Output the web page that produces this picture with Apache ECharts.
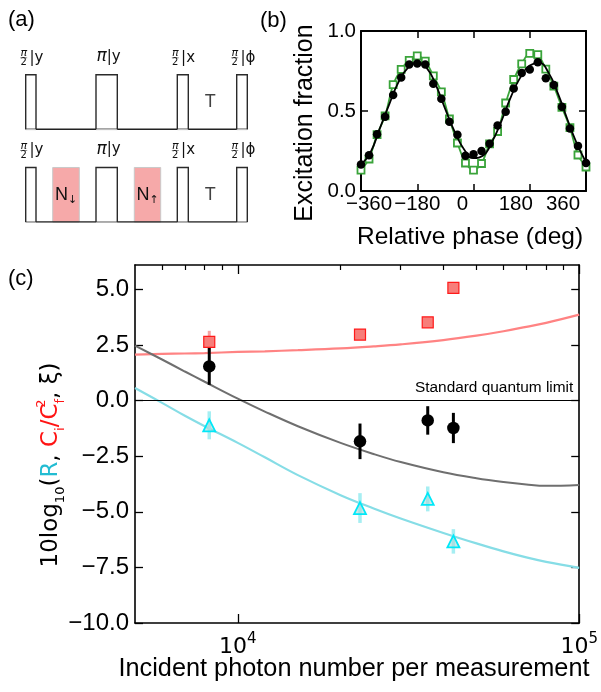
<!DOCTYPE html>
<html><head><meta charset="utf-8">
<script src="https://cdn.jsdelivr.net/npm/echarts@6/dist/echarts.min.js"></script>
<style>html,body{margin:0;padding:0;background:#fff}#c{width:601px;height:692px}</style>
</head><body><div id="c"></div><script>
// ---------------- panel (a): pulse sequence (time, arbitrary units)
const pulseTimes = [[0, 10.3], [70.3, 91.6], [151.6, 162.6], [211, 221.6]];
const pulseLabels = ['π/2|y', 'π|y', 'π/2|x', 'π/2|ϕ'];
const probeTimes = [[27, 53.6], [108.6, 135]];
const probeLabels = ['↓', '↑'];
const seqEnd = 221.6;
const waitLabelTime = 184.5;
const waitLabel = 'T';

// ---------------- panel (b): Ramsey fringes
const phaseDeg = [-360, -334.3, -308.6, -282.9, -257.1, -231.4, -205.7, -180, -154.3, -128.6, -102.9, -77.1, -51.4, -25.7, 0,
  25.7, 51.4, 77.1, 102.9, 128.6, 154.3, 180, 205.7, 231.4, 257.1, 282.9, 308.6, 334.3, 360];
const excBlack = [0.165, 0.224, 0.355, 0.464, 0.60, 0.71, 0.79, 0.797, 0.79, 0.67, 0.577, 0.433, 0.352, 0.22, 0.23,
  0.25, 0.295, 0.41, 0.496, 0.64, 0.737, 0.76, 0.805, 0.705, 0.662, 0.527, 0.391, 0.282, 0.175];
const excGreen = [0.13, 0.20, 0.352, 0.47, 0.665, 0.76, 0.817, 0.845, 0.812, 0.72, 0.62, 0.45, 0.30, 0.175, 0.13,
  0.172, 0.294, 0.372, 0.55, 0.697, 0.795, 0.86, 0.852, 0.762, 0.656, 0.523, 0.396, 0.225, 0.15];
const fitPhase = [-360, -330, -300, -270, -240, -210, -180, -150, -120, -90, -60, -30, 0, 30, 60, 90, 120, 150, 180, 210, 240, 270, 300, 330, 360];
const fitBlack = [0.165, 0.24, 0.39, 0.54, 0.68, 0.77, 0.80, 0.77, 0.66, 0.51, 0.37, 0.26, 0.205, 0.22, 0.31, 0.44, 0.59, 0.71, 0.785, 0.80, 0.74, 0.61, 0.45, 0.30, 0.18];
const phaseTicks = [-360, -180, 0, 180, 360];
const fracTicks = [0, 0.5, 1];

// ---------------- panel (c): squeezing vs photon number
const photonN = [8250, 22800, 36000, 42800];
const ratioC = [2.64, 2.97, 3.52, 5.07];
const ratioCErr = [0.5, 0.15, 0.15, 0.15];
const xiVal = [1.54, -1.83, -0.89, -1.23];
const xiErr = [0.83, 0.8, 0.64, 0.68];
const ratioR = [-1.11, -4.83, -4.42, -6.33];
const ratioRErr = [0.63, 0.67, 0.56, 0.55];
const curveN = [5000, 6000, 7000, 8000, 10000, 12000, 15000, 20000, 25000, 30000, 40000, 50000, 60000, 70000, 80000, 100000];
const curveC = [2.07, 2.10, 2.12, 2.14, 2.19, 2.22, 2.27, 2.35, 2.44, 2.53, 2.72, 2.92, 3.12, 3.32, 3.50, 3.87];
const curveXi = [2.47, 1.85, 1.31, 0.85, 0.09, -0.49, -1.15, -1.90, -2.40, -2.76, -3.22, -3.49, -3.66, -3.77, -3.83, -3.79];
const curveR = [0.57, -0.10, -0.68, -1.15, -1.90, -2.55, -3.35, -4.25, -4.85, -5.30, -5.95, -6.42, -6.78, -7.05, -7.25, -7.52];
const yTicksC = [-10, -7.5, -5, -2.5, 0, 2.5, 5];
const xMajorN = [10000, 100000];
const xMinorN = [6000, 7000, 8000, 9000, 20000, 30000, 40000, 50000, 60000, 70000, 80000, 90000];
const nMin = 5000, nMax = 100000;
const yMinC = -10, yMaxC = 6.1;

// ---------------- rendering
const FONT = 'Liberation Sans, Arial, Helvetica, sans-serif';
const MATH = 'DejaVu Sans, sans-serif';
const lg = Math.log10;
const minus = s => String(s).replace('-', '\u2212');
const chart = echarts.init(document.getElementById('c'), null, {renderer: 'canvas'});

// panel (a) layout: two rows; row baselines in y units (pulse height = 1)
const rowBase = [1.7, 0];
const pulseData = [];
rowBase.forEach(b => pulseTimes.forEach((p, i) => pulseData.push([p[0], p[1], b, i])));
const probeData = probeTimes.map((p, i) => [p[0], p[1], rowBase[1], i]);
const waitData = rowBase.map(b => [waitLabelTime, b + 0.5]);

function pulseRender(params, api) {
  const s = api.value(0), e = api.value(1), base = api.value(2), li = api.value(3);
  const tl = api.coord([s, base + 1]);
  const br = api.coord([e, base]);
  const x0 = tl[0], yt = tl[1], x1 = br[0], yb = br[1];
  const ch = [
    {type: 'line', shape: {x1: x0, y1: yb, x2: x1, y2: yb}, style: {stroke: '#bdbdbd', lineWidth: 1.6}},
    {type: 'polyline', shape: {points: [[x0, yb], [x0, yt], [x1, yt], [x1, yb]]}, style: {stroke: '#2a2a2a', lineWidth: 1.4, fill: null}}
  ];
  const parts = pulseLabels[li].split('|');
  const frac = parts[0], ax = parts[1];
  const ly = yt - 17;
  if (frac.indexOf('/') >= 0) {
    const nd = frac.split('/');
    const fx = x0 - 2;
    ch.push({type: 'text', style: {text: nd[0], x: fx, y: ly - 4.5, align: 'center', verticalAlign: 'middle', fontSize: 11, fontFamily: MATH, fontStyle: 'italic', fill: '#111'}});
    ch.push({type: 'line', shape: {x1: fx - 3.5, y1: ly, x2: fx + 3.5, y2: ly}, style: {stroke: '#444', lineWidth: 0.6}});
    ch.push({type: 'text', style: {text: nd[1], x: fx, y: ly + 4.8, align: 'center', verticalAlign: 'middle', fontSize: 10, fontFamily: MATH, fill: '#111'}});
    ch.push({type: 'text', style: {text: '|' + ax, x: x0 + 3.8, y: ly, align: 'left', verticalAlign: 'middle', fontSize: 15, fontFamily: MATH, fill: '#111'}});
  } else {
    ch.push({type: 'text', style: {text: '{p|' + frac + '}{t||' + ax + '}', x: x0 + 0.5, y: ly - 1, align: 'left', verticalAlign: 'middle',
      rich: {p: {fontSize: 17, fontFamily: MATH, fontStyle: 'italic', fill: '#111'}, t: {fontSize: 15, fontFamily: MATH, fill: '#111'}}}});
  }
  return {type: 'group', children: ch};
}
function probeRender(params, api) {
  const s = api.value(0), e = api.value(1), base = api.value(2), li = api.value(3);
  const tl = api.coord([s, base + 1]);
  const br = api.coord([e, base]);
  return {type: 'group', children: [
    {type: 'rect', shape: {x: tl[0], y: tl[1], width: br[0] - tl[0], height: br[1] - tl[1]}, style: {fill: '#f6a9a9', stroke: '#c9c9c9', lineWidth: 1}},
    {type: 'text', style: {text: 'N{s|' + probeLabels[li] + '}', x: (tl[0] + br[0]) / 2, y: (tl[1] + br[1]) / 2, align: 'center', verticalAlign: 'middle',
      fontSize: 18, fontFamily: FONT, fill: '#111', rich: {s: {fontSize: 11, fontFamily: MATH, verticalAlign: 'bottom', lineHeight: 11, fill: '#111'}}, lineHeight: 22}}
  ]};
}
function errRender(color, width) {
  return function (params, api) {
    const a = api.coord([api.value(0), api.value(1)]);
    const b = api.coord([api.value(0), api.value(2)]);
    return {type: 'line', shape: {x1: a[0], y1: a[1], x2: b[0], y2: b[1]}, style: {stroke: color, lineWidth: width}};
  };
}
const errData = (vals, errs) => photonN.map((n, i) => [lg(n), vals[i] - errs[i], vals[i] + errs[i]]);
const pts = vals => photonN.map((n, i) => [lg(n), vals[i]]);
const curve = vals => curveN.map((n, i) => [lg(n), vals[i]]);

const blackAxis = {color: '#000', width: 1.6};
const tickOffsetPad = {'-360': [0, 0, 0, 16], '-180': [0, 0, 0, 0], '0': [0, 22, 0, 0], '180': [0, 28, 0, 0], '360': [0, 46, 0, 0]};
const phaseRich = {};
phaseTicks.forEach((t, i) => { phaseRich['o' + i] = {padding: tickOffsetPad[String(t)], fontSize: 20.5, fontFamily: FONT, color: '#000'}; });

const option = {
  animation: false,
  backgroundColor: '#fff',
  textStyle: {fontFamily: FONT},
  grid: [
    {left: 25.7, top: 74.8, width: 221.6, height: 147.2},
    {left: 361, top: 31, width: 225, height: 160},
    {left: 135, top: 265, width: 449, height: 358}
  ],
  xAxis: [
    {gridIndex: 0, type: 'value', min: 0, max: seqEnd, show: false},
    {gridIndex: 1, type: 'value', min: -360, max: 360, axisLine: {onZero: false, lineStyle: {color: '#000', width: 2}},
      axisTick: {inside: true, length: 7, customValues: [-180, 0, 180], lineStyle: {color: '#000', width: 1.5}},
      axisLabel: {customValues: phaseTicks, margin: 3, formatter: v => '{o' + phaseTicks.indexOf(v) + '|' + minus(v) + '}', rich: phaseRich},
      splitLine: {show: false}},
    {gridIndex: 1, type: 'value', position: 'top', min: -360, max: 360, axisLine: {onZero: false, lineStyle: {color: '#000', width: 2}},
      axisTick: {inside: true, length: 7, customValues: [-180, 0, 180], lineStyle: {color: '#000', width: 1.5}},
      axisLabel: {show: false}, splitLine: {show: false}},
    {gridIndex: 2, type: 'value', min: lg(nMin), max: lg(nMax), axisLine: {onZero: false, lineStyle: blackAxis},
      axisTick: {inside: true, length: 9, customValues: xMajorN.map(lg), lineStyle: {color: '#000', width: 1.3}},
      axisLabel: {customValues: xMajorN.map(lg), margin: 9, formatter: v => '{b|10}{s|' + Math.round(v) + '}',
        rich: {b: {fontSize: 22, lineHeight: 30, fontFamily: MATH, color: '#000'}, s: {fontSize: 15, lineHeight: 20, verticalAlign: 'top', fontFamily: MATH, color: '#000'}}},
      splitLine: {show: false}},
    {gridIndex: 2, type: 'value', min: lg(nMin), max: lg(nMax), axisLine: {show: false, onZero: false},
      axisTick: {inside: true, length: 5, customValues: xMinorN.map(lg), lineStyle: {color: '#000', width: 1.1}},
      axisLabel: {show: false}, splitLine: {show: false}},
    {gridIndex: 2, type: 'value', position: 'top', min: lg(nMin), max: lg(nMax), axisLine: {onZero: false, lineStyle: blackAxis},
      axisTick: {inside: true, length: 9, customValues: xMajorN.map(lg), lineStyle: {color: '#000', width: 1.3}},
      axisLabel: {show: false}, splitLine: {show: false}},
    {gridIndex: 2, type: 'value', position: 'top', min: lg(nMin), max: lg(nMax), axisLine: {show: false, onZero: false},
      axisTick: {inside: true, length: 5, customValues: xMinorN.map(lg), lineStyle: {color: '#000', width: 1.1}},
      axisLabel: {show: false}, splitLine: {show: false}}
  ],
  yAxis: [
    {gridIndex: 0, type: 'value', min: 0, max: 2.7, show: false},
    {gridIndex: 1, type: 'value', min: 0, max: 1, axisLine: {show: true, onZero: false, lineStyle: {color: '#000', width: 2}},
      axisTick: {show: true, inside: true, length: 7, customValues: fracTicks, lineStyle: {color: '#000', width: 1.5}},
      axisLabel: {customValues: fracTicks, margin: 5, fontSize: 20.5, color: '#000', fontFamily: FONT, formatter: v => v.toFixed(1)},
      splitLine: {show: false}},
    {gridIndex: 1, type: 'value', position: 'right', min: 0, max: 1, axisLine: {show: true, onZero: false, lineStyle: {color: '#000', width: 2}},
      axisTick: {show: true, inside: true, length: 7, customValues: fracTicks, lineStyle: {color: '#000', width: 1.5}},
      axisLabel: {show: false}, splitLine: {show: false}},
    {gridIndex: 2, type: 'value', min: yMinC, max: yMaxC, axisLine: {show: true, onZero: false, lineStyle: blackAxis},
      axisTick: {show: true, inside: true, length: 8, customValues: yTicksC, lineStyle: {color: '#000', width: 1.3}},
      axisLabel: {customValues: yTicksC, margin: 6, fontSize: 24, color: '#000', fontFamily: FONT, formatter: v => minus(v.toFixed(1))},
      splitLine: {show: false}},
    {gridIndex: 2, type: 'value', position: 'right', min: yMinC, max: yMaxC, axisLine: {show: true, onZero: false, lineStyle: blackAxis},
      axisTick: {show: true, inside: true, length: 8, customValues: yTicksC, lineStyle: {color: '#000', width: 1.3}},
      axisLabel: {show: false}, splitLine: {show: false}}
  ],
  series: [
    // panel (a)
    {type: 'line', xAxisIndex: 0, yAxisIndex: 0, data: [[0, rowBase[0]], [seqEnd, rowBase[0]]], symbol: 'none', lineStyle: {color: '#222', width: 1.5}, silent: true},
    {type: 'line', xAxisIndex: 0, yAxisIndex: 0, data: [[0, rowBase[1]], [seqEnd, rowBase[1]]], symbol: 'none', lineStyle: {color: '#222', width: 1.5}, silent: true},
    {type: 'custom', xAxisIndex: 0, yAxisIndex: 0, data: probeData, renderItem: probeRender, z: 3},
    {type: 'custom', xAxisIndex: 0, yAxisIndex: 0, data: pulseData, renderItem: pulseRender, z: 4},
    {type: 'scatter', xAxisIndex: 0, yAxisIndex: 0, data: waitData, symbolSize: 0,
      label: {show: true, position: 'inside', formatter: waitLabel, fontSize: 18, color: '#111', fontFamily: FONT}},
    // panel (b)
    {type: 'line', xAxisIndex: 1, yAxisIndex: 1, data: phaseDeg.map((p, i) => [p, excGreen[i]]), smooth: 0.3,
      symbol: 'rect', symbolSize: 7, itemStyle: {color: '#fff', borderColor: '#3aa43a', borderWidth: 1.8, opacity: 1},
      lineStyle: {color: '#3aa43a', width: 1.8}, z: 3},
    {type: 'line', xAxisIndex: 1, yAxisIndex: 1, data: fitPhase.map((p, i) => [p, fitBlack[i]]), smooth: 0.5,
      symbol: 'none', lineStyle: {color: '#000', width: 1.8}, z: 4},
    {type: 'scatter', xAxisIndex: 1, yAxisIndex: 1, data: phaseDeg.map((p, i) => [p, excBlack[i]]),
      symbol: 'circle', symbolSize: 8.5, itemStyle: {color: '#000', opacity: 1}, z: 5},
    // panel (c)
    {type: 'line', xAxisIndex: 3, yAxisIndex: 3, data: curve(curveC), smooth: 0.4, symbol: 'none', lineStyle: {color: '#ff8383', width: 2.2}, z: 2},
    {type: 'line', xAxisIndex: 3, yAxisIndex: 3, data: curve(curveXi), smooth: 0.4, symbol: 'none', lineStyle: {color: '#6f6f6f', width: 2}, z: 2,
      markLine: {silent: true, symbol: 'none', data: [{yAxis: 0}], lineStyle: {color: '#000', width: 1.2, type: 'solid'},
        label: {show: true, position: 'insideEndTop', formatter: 'Standard quantum limit', fontSize: 15.4, color: '#000', fontFamily: FONT, distance: [6, 5]}}},
    {type: 'line', xAxisIndex: 3, yAxisIndex: 3, data: curve(curveR), smooth: 0.4, symbol: 'none', lineStyle: {color: '#86dde6', width: 2.2}, z: 2},
    {type: 'custom', xAxisIndex: 3, yAxisIndex: 3, data: errData(ratioC, ratioCErr), renderItem: errRender('#f7a2a2', 3), z: 3},
    {type: 'custom', xAxisIndex: 3, yAxisIndex: 3, data: errData(ratioR, ratioRErr), renderItem: errRender('#a6eef2', 3.5), z: 3},
    {type: 'custom', xAxisIndex: 3, yAxisIndex: 3, data: errData(xiVal, xiErr), renderItem: errRender('#000', 3), z: 4},
    {type: 'scatter', xAxisIndex: 3, yAxisIndex: 3, data: pts(ratioC), symbol: 'rect', symbolSize: 11,
      itemStyle: {color: '#f77e7a', borderColor: '#ff1a1a', borderWidth: 1.2, opacity: 1}, z: 5},
    {type: 'scatter', xAxisIndex: 3, yAxisIndex: 3, data: pts(xiVal), symbol: 'circle', symbolSize: 12.5, itemStyle: {color: '#000', opacity: 1}, z: 5},
    {type: 'scatter', xAxisIndex: 3, yAxisIndex: 3, data: pts(ratioR), symbol: 'triangle', symbolSize: 12,
      itemStyle: {color: 'rgba(170,215,215,0.6)', borderColor: '#00e8f8', borderWidth: 1.8, opacity: 1}, z: 5}
  ],
  graphic: [
    {type: 'text', left: 8, top: 9, style: {text: '(a)', fontSize: 22, fontFamily: FONT, fill: '#000'}},
    {type: 'text', left: 260, top: 10, style: {text: '(b)', fontSize: 22, fontFamily: FONT, fill: '#000'}},
    {type: 'text', left: 8, top: 268, style: {text: '(c)', fontSize: 22, fontFamily: FONT, fill: '#000'}},
    {type: 'text', x: 305, y: 123, rotation: Math.PI / 2,
      style: {text: 'Excitation fraction', fontSize: 25, fontFamily: FONT, fill: '#000', align: 'center', verticalAlign: 'middle'}},
    {type: 'text', x: 470, y: 237,
      style: {text: 'Relative phase (deg)', fontSize: 24.5, fontFamily: FONT, fill: '#000', align: 'center', verticalAlign: 'middle'}},
    {type: 'text', x: 354, y: 669,
      style: {text: 'Incident photon number per measurement', fontSize: 25.3, fontFamily: FONT, fill: '#000', align: 'center', verticalAlign: 'middle'}},
    {type: 'text', x: 51, y: 465, rotation: Math.PI / 2,
      style: {text: '{k|10log}{sb|10}{k|(}{c|R}{k|, }{r|C}{rsb|i}{r|/C}{rsp|2}{rsb|f}{k|, ξ)}', align: 'center', verticalAlign: 'middle',
        rich: {
          k: {fontSize: 23, lineHeight: 32, fontFamily: MATH, fill: '#000'},
          sb: {fontSize: 13, lineHeight: 12, verticalAlign: 'bottom', fontFamily: MATH, fill: '#000'},
          c: {fontSize: 23, lineHeight: 32, fontFamily: MATH, fill: '#22bcd2'},
          r: {fontSize: 23, lineHeight: 32, fontFamily: MATH, fill: '#ff1414'},
          rsb: {fontSize: 13, lineHeight: 12, verticalAlign: 'bottom', fontFamily: MATH, fill: '#ff1414'},
          rsp: {fontSize: 13, lineHeight: 13, verticalAlign: 'top', fontFamily: MATH, fill: '#ff1414', width: 0}
        }}}
  ]
};
chart.setOption(option);
</script></body></html>
